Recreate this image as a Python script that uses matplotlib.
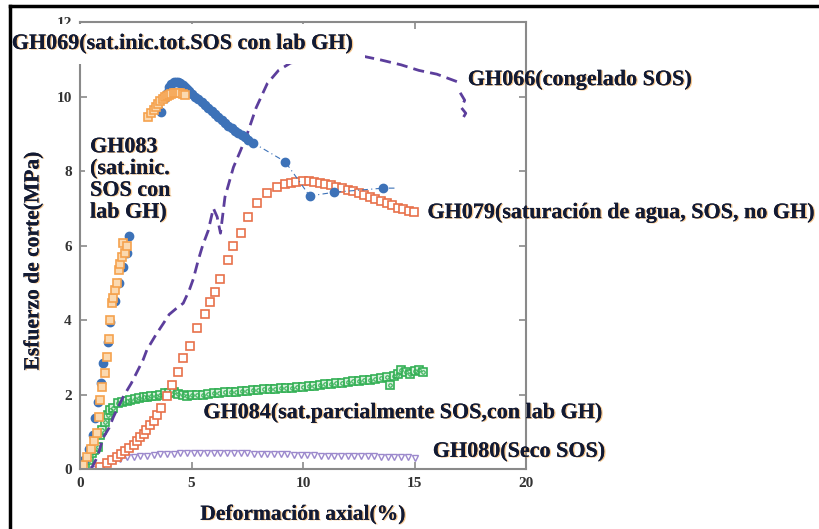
import numpy as np
import matplotlib.pyplot as plt
import matplotlib.patheffects as pe
from matplotlib.lines import Line2D

# GH069 - circulos azules (tramo inicial y tramo de pico)
x69_a = [0.0, 0.2, 0.4, 0.6, 0.67, 0.8, 0.96, 1.03, 1.27, 1.35, 1.55, 1.75, 1.95, 2.1, 2.2]
y69_a = [0.02, 0.25, 0.55, 0.9, 1.37, 1.8, 2.3, 2.85, 3.4, 3.95, 4.5, 5.0, 5.43, 5.8, 6.25]
x69_b = [3.64, 3.8, 3.9, 4.0, 4.1, 4.2, 4.3, 4.4, 4.5, 4.6, 4.7, 4.8, 4.9, 5.0, 5.15, 5.3,
         5.45, 5.6, 5.75, 5.9, 6.05, 6.2, 6.35, 6.5, 6.65, 6.8, 6.95, 7.1, 7.25, 7.4, 7.55,
         7.78, 9.2, 10.3, 11.4, 13.6, 14.2]
y69_b = [9.58, 9.95, 10.1, 10.25, 10.33, 10.38, 10.4, 10.39, 10.36, 10.31, 10.26, 10.2,
         10.14, 10.08, 10.0, 9.92, 9.84, 9.76, 9.68, 9.6, 9.52, 9.44, 9.37, 9.3, 9.22, 9.15,
         9.08, 9.02, 8.96, 8.9, 8.84, 8.75, 8.25, 7.33, 7.43, 7.54, 7.54]

# GH083 - cuadrados naranjas
x83_a = [0.0, 0.15, 0.3, 0.5, 0.65, 0.75, 0.85, 0.9, 1.0, 1.12, 1.2, 1.28, 1.35, 1.43,
         1.5, 1.58, 1.65, 1.73, 1.8, 1.88, 1.93, 2.0, 2.1]
y83_a = [0.03, 0.1, 0.32, 0.55, 0.75, 0.96, 1.4, 1.85, 2.2, 2.57, 3.0, 3.5, 4.0, 4.45,
         4.6, 4.8, 5.0, 5.35, 5.5, 5.7, 6.06, 5.8, 6.0]
x83_b = [3.07, 3.2, 3.3, 3.4, 3.5, 3.6, 3.7, 3.8, 3.9, 4.0, 4.1, 4.2, 4.3, 4.4, 4.5, 4.6, 4.7]
y83_b = [9.45, 9.55, 9.65, 9.72, 9.8, 9.87, 9.93, 9.98, 10.02, 10.05, 10.08, 10.1, 10.1,
         10.1, 10.1, 10.08, 10.05]

# GH079 - cuadrados abiertos rojizos
x79 = [0.9, 1.2, 1.45, 1.65, 1.85, 2.0, 2.2, 2.4, 2.55, 2.7, 2.85, 2.97, 3.15, 3.3, 3.45,
       3.64, 3.9, 4.13, 4.4, 4.6, 4.94, 5.26, 5.6, 5.84, 6.05, 6.3, 6.65, 6.88, 7.2, 7.55,
       7.95, 8.4, 8.85, 9.2, 9.44, 9.7, 10.0, 10.25, 10.5, 10.75, 11.0, 11.25, 11.5, 11.75,
       12.0, 12.25, 12.5, 12.75, 13.0, 13.25, 13.5, 13.75, 14.0, 14.25, 14.5, 14.75, 14.97]
y79 = [0.05, 0.16, 0.25, 0.32, 0.4, 0.48, 0.56, 0.64, 0.75, 0.86, 0.95, 1.05, 1.17, 1.29,
       1.45, 1.64, 1.95, 2.25, 2.6, 2.98, 3.3, 3.79, 4.16, 4.48, 4.75, 5.1, 5.6, 6.0, 6.33,
       6.77, 7.13, 7.4, 7.57, 7.64, 7.68, 7.71, 7.72, 7.72, 7.71, 7.69, 7.66, 7.62, 7.58,
       7.54, 7.5, 7.45, 7.4, 7.35, 7.3, 7.25, 7.2, 7.14, 7.08, 7.02, 6.97, 6.93, 6.9]

# GH066 - linea morada discontinua (nan = tramo tapado)
x66 = [0.5, 0.8, 1.03, 1.3, 1.5, 1.93, 2.3, 2.83, 3.0, 3.4, 3.73, 4.0, 4.3, 4.63, 4.9,
       5.08, 5.3, 5.5, 5.75, 5.98, 6.15, 6.3, 6.5, 6.88, 7.2, 7.5, 7.9, 8.4, 8.9, 9.44, 9.9,
       np.nan, 12.7, 13.5, 14.4, 15.2, 16.0, 16.9, np.nan, 17.05, 17.25, 17.1, 17.3, 17.15]
y66 = [0.0, 0.35, 0.83, 1.1, 1.4, 1.93, 2.3, 2.93, 3.2, 3.6, 3.9, 4.15, 4.3, 4.45, 4.8,
       5.1, 5.6, 6.0, 6.4, 7.0, 6.77, 6.33, 7.3, 8.1, 8.55, 9.0, 9.7, 10.35, 10.7, 10.9,
       10.95, np.nan, 11.08, 10.98, 10.85, 10.7, 10.6, 10.4, np.nan, 10.1, 9.9, 9.7, 9.55, 9.4]

# GH084 - cuadrados verdes
x84 = [0.0, 0.22, 0.4, 0.53, 0.65, 0.8, 0.9, 1.0, 1.12, 1.25, 1.35, 1.5, 1.7, 1.9, 2.1,
       2.25, 2.45, 2.65, 2.85, 3.0, 3.2, 3.4, 3.6, 3.8, 4.0, 4.2, 4.4, 4.6, 4.8, 5.0, 5.25,
       5.5, 5.75, 6.0, 6.25, 6.5, 6.75, 7.0, 7.25, 7.5, 7.75, 8.0, 8.25, 8.5, 8.75, 9.0,
       9.25, 9.5, 9.75, 10.0, 10.25, 10.5, 10.75, 11.0, 11.25, 11.5, 11.75, 12.0, 12.25,
       12.5, 12.75, 13.0, 13.25, 13.5, 13.75, 13.9, 14.1, 14.25, 14.4, 14.6, 14.8, 15.0,
       15.2, 15.4]
y84 = [0.0, 0.1, 0.25, 0.42, 0.5, 0.6, 0.9, 1.05, 1.26, 1.45, 1.58, 1.65, 1.77, 1.8,
       1.83, 1.85, 1.88, 1.9, 1.92, 1.93, 1.95, 1.97, 2.0, 2.03, 2.05, 2.07, 2.02, 1.98,
       1.96, 1.98, 2.0, 2.0, 2.02, 2.03, 2.05, 2.06, 2.07, 2.08, 2.1, 2.1, 2.12, 2.13, 2.14,
       2.15, 2.16, 2.17, 2.18, 2.18, 2.2, 2.2, 2.22, 2.24, 2.25, 2.27, 2.28, 2.3, 2.32,
       2.33, 2.35, 2.37, 2.38, 2.4, 2.42, 2.45, 2.48, 2.25, 2.5, 2.55, 2.66, 2.6, 2.55,
       2.62, 2.65, 2.6]

# GH080 - triangulos morados claros
x80 = [0.6, 0.9, 1.2, 1.5, 1.8, 2.1, 2.4, 2.7, 3.0, 3.3, 3.6, 3.9, 4.2, 4.5, 4.8, 5.1,
       5.4, 5.7, 6.0, 6.3, 6.6, 6.9, 7.2, 7.5, 7.8, 8.1, 8.4, 8.7, 9.0, 9.3, 9.6, 9.9, 10.2,
       10.5, 10.8, 11.1, 11.4, 11.7, 12.0, 12.3, 12.6, 12.9, 13.2, 13.5, 13.8, 14.1, 14.4,
       14.7, 15.0]
y80 = [0.0, 0.08, 0.17, 0.24, 0.28, 0.31, 0.33, 0.35, 0.36, 0.38, 0.39, 0.4, 0.41, 0.42,
       0.42, 0.43, 0.43, 0.44, 0.44, 0.43, 0.43, 0.43, 0.42, 0.42, 0.41, 0.41, 0.4, 0.4,
       0.39, 0.39, 0.38, 0.38, 0.37, 0.37, 0.36, 0.36, 0.36, 0.35, 0.35, 0.35, 0.34, 0.34,
       0.34, 0.33, 0.33, 0.33, 0.32, 0.32, 0.3]

xticks = [0, 5, 10, 15, 20]
yticks = [0, 2, 4, 6, 8, 10, 12]

serif = ['Liberation Serif', 'DejaVu Serif']
txt_color = '#121a33'
halo = [pe.withSimplePatchShadow(offset=(1.0, -0.4), shadow_rgbFace='#f0a040', alpha=0.6),
        pe.Normal()]

fig = plt.figure(figsize=(8.19, 5.29), dpi=100)
ax = fig.add_axes([80 / 819, 60 / 529, 446 / 819, 447 / 529])

c_blue = '#3d72b8'
c_orange = '#f5a24e'
c_red = '#e8714a'
c_purple = '#5c3e9c'
c_green = '#33b055'
c_lav = '#9b88cc'

ax.plot(x80, y80, linestyle='none', marker='v', ms=5, mfc='none', mec=c_lav, mew=1.0)
ax.plot(x84, y84, linestyle='none', marker='s', ms=6, mfc='#d7f0dc', mec=c_green, mew=1.2)
ax.plot(x84, y84, linestyle='none', marker='o', ms=2.5, mfc='none', mec=c_green, mew=0.8)
ax.plot(x79, y79, linestyle='none', marker='s', ms=6, mfc='white', mec=c_red, mew=1.2)
ax.plot(x66, y66, color=c_purple, lw=2.0, linestyle=(0, (4, 2.2)))
ax.plot(x69_a, y69_a, linestyle='none', marker='o', ms=6, mfc=c_blue, mec=c_blue)
ax.plot(x69_b, y69_b, color=c_blue, lw=0.8, linestyle=(0, (5, 3, 1, 3)), marker='o', ms=6,
        mfc=c_blue, mec=c_blue, markevery=slice(0, len(x69_b) - 1))
ax.plot(x83_a, y83_a, linestyle='none', marker='s', ms=5.5, mfc='#fbd9b0', mec=c_orange, mew=1.2)
ax.plot(x83_b, y83_b, linestyle='none', marker='s', ms=5.5, mfc='#fbd9b0', mec=c_orange, mew=1.2)

ax.set_xlim(0, 20)
ax.set_ylim(0, 12)
ax.set_xticks(xticks)
ax.set_yticks(yticks)
for s in ax.spines.values():
    s.set_color('#8a8a8a')
    s.set_linewidth(1.5)
ax.tick_params(direction='in', length=5, width=1.2, color='#8a8a8a',
               top=True, right=True, labelsize=11, pad=6)
for lab in ax.get_xticklabels() + ax.get_yticklabels():
    lab.set_family(serif)
    lab.set_fontweight('bold')
    lab.set_color('#333333')

ax.set_xlabel('Deformación axial(%)', family=serif, fontweight='bold', fontsize=15.5,
              color=txt_color, path_effects=halo)
ax.set_ylabel('Esfuerzo de corte(MPa)', family=serif, fontweight='bold', fontsize=15.5,
              color=txt_color, path_effects=halo)
ax.xaxis.set_label_coords(0.5, -0.08)
ax.yaxis.set_label_coords(-0.082, 0.465)

lab_kw = dict(family=serif, fontweight='bold', fontsize=15.9, color=txt_color,
              ha='left', va='center', clip_on=False, path_effects=halo, zorder=5)
ax.text(-3.06, 11.41, 'GH069(sat.inic.tot.SOS con lab GH)',
        bbox=dict(boxstyle='square,pad=0.45', fc='white', ec='none'), **lab_kw)
ax.text(0.45, 7.76, 'GH083\n(sat.inic.\nSOS con\nlab GH)', linespacing=1.12,
        bbox=dict(boxstyle='square,pad=0.25', fc='white', ec='none'), **lab_kw)
ax.text(17.39, 10.44, 'GH066(congelado SOS)', **lab_kw)
ax.text(15.58, 6.87, 'GH079(saturación de agua, SOS, no GH)', **lab_kw)
ax.text(5.53, 1.5, 'GH084(sat.parcialmente SOS,con lab GH)', **lab_kw)
ax.text(15.82, 0.46, 'GH080(Seco SOS)', **lab_kw)

# marco exterior (solo borde superior e izquierdo)
fig.add_artist(Line2D([10 / 819, 1.0], [1 - 6 / 529, 1 - 6 / 529], color='black', lw=2.5))
fig.add_artist(Line2D([10 / 819, 10 / 819], [0.0, 1 - 6 / 529], color='black', lw=2.5))

fig.savefig('out.png', dpi=100)
